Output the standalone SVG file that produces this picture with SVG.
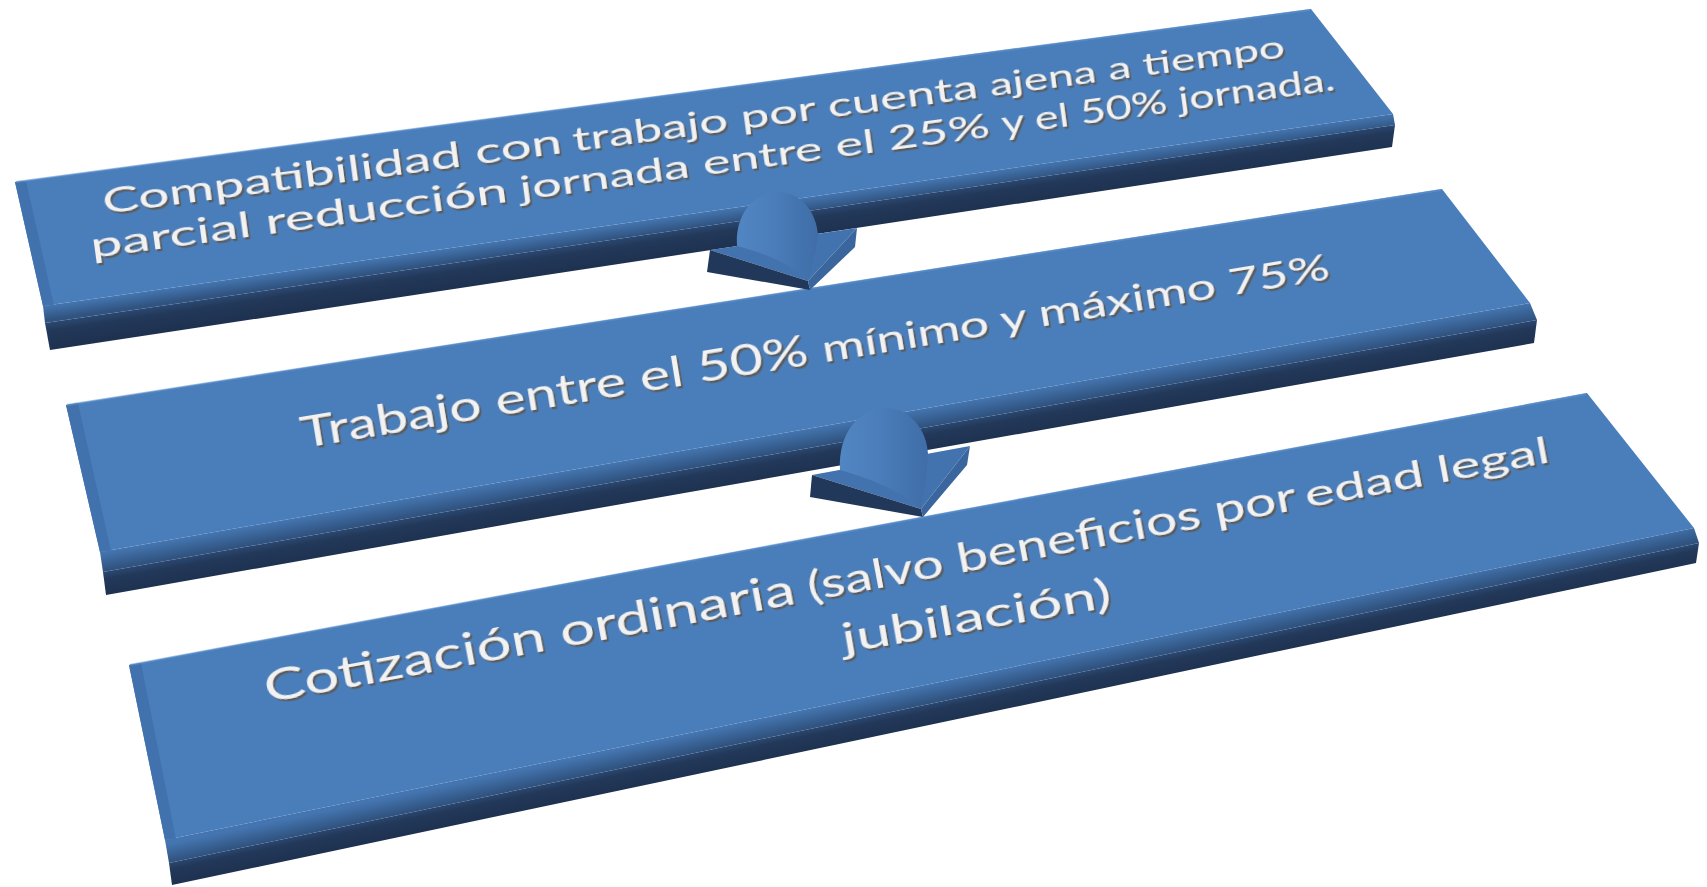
<svg xmlns="http://www.w3.org/2000/svg" width="1707" height="887" viewBox="0 0 1707 887">
<defs>
<style>
.top{fill:#4A7EBB}
.edge{fill:#4272AD}
.hl{stroke:#5E92CE;stroke-width:2;stroke-opacity:0.6;fill:none}
.t{font-family:Lato,"Open Sans","Liberation Sans",sans-serif;fill:#F2F2F2;filter:url(#ts)}
.ah-top{fill:#4373AE}
.ah-front{fill:#22385A}
.ah-right{fill:#3A669D}
</style>
<filter id="ts" x="-5%" y="-30%" width="110%" height="160%">
<feDropShadow dx="1.8" dy="2.4" stdDeviation="0.6" flood-color="#5a5a5a" flood-opacity="1"/>
</filter>
<linearGradient id="g1b" gradientUnits="userSpaceOnUse" x1="718" y1="210" x2="720" y2="224"><stop offset="0" stop-color="#4475B0"/><stop offset="1" stop-color="#30537F"/></linearGradient>
<linearGradient id="g1f" gradientUnits="userSpaceOnUse" x1="720" y1="224" x2="723.5" y2="247.7"><stop offset="0" stop-color="#2A4770"/><stop offset="0.3" stop-color="#23395A"/><stop offset="1" stop-color="#1E3150"/></linearGradient>
<linearGradient id="g2b" gradientUnits="userSpaceOnUse" x1="815" y1="427.5" x2="818.1" y2="445.2"><stop offset="0" stop-color="#4475B0"/><stop offset="1" stop-color="#30537F"/></linearGradient>
<linearGradient id="g2f" gradientUnits="userSpaceOnUse" x1="820" y1="446" x2="824" y2="468.7"><stop offset="0" stop-color="#2A4770"/><stop offset="0.3" stop-color="#23395A"/><stop offset="1" stop-color="#1E3150"/></linearGradient>
<linearGradient id="g3b" gradientUnits="userSpaceOnUse" x1="929.5" y1="684" x2="933.2" y2="701.6"><stop offset="0" stop-color="#4475B0"/><stop offset="1" stop-color="#30537F"/></linearGradient>
<linearGradient id="g3f" gradientUnits="userSpaceOnUse" x1="934" y1="703" x2="938.3" y2="723.6"><stop offset="0" stop-color="#2A4770"/><stop offset="0.3" stop-color="#23395A"/><stop offset="1" stop-color="#1E3150"/></linearGradient>
<linearGradient id="dome" x1="0" y1="0" x2="1" y2="0"><stop offset="0" stop-color="#5286C2"/><stop offset="0.45" stop-color="#4A7DBA"/><stop offset="1" stop-color="#3F6DA7"/></linearGradient>
</defs>
<rect width="1707" height="887" fill="#FFFFFF"/>

<g id="node-1">
<polygon class="top" points="15,182 1311,9 1393,114 43,306"/>
<polygon class="edge" points="15,182 26,181 54,305 43,306"/>
<line class="hl" x1="16" y1="182" x2="1310" y2="10"/>
<polygon fill="url(#g1b)" points="43,306 1393,114 1395,125 45,323"/>
<polygon fill="url(#g1f)" points="45,323 1395,125 1392,147 50,350"/>
<text class="t" transform="translate(104,214) rotate(-7.57)"><tspan x="0" font-size="35" textLength="463" lengthAdjust="spacingAndGlyphs">Compatibilidad con</tspan> <tspan x="474.1" font-size="33.2" textLength="408.6" lengthAdjust="spacingAndGlyphs">trabajo por cuenta</tspan> <tspan x="894.8" font-size="31.8" textLength="297.6" lengthAdjust="spacingAndGlyphs">ajena a tiempo</tspan></text>
<text class="t" transform="translate(92,258) rotate(-7.69)"><tspan x="0" font-size="35.3" textLength="420.8" lengthAdjust="spacingAndGlyphs">parcial reducción</tspan> <tspan x="432.9" font-size="33.6" textLength="474.3" lengthAdjust="spacingAndGlyphs">jornada entre el 25%</tspan> <tspan x="919.3" font-size="32" textLength="336" lengthAdjust="spacingAndGlyphs">y el 50% jornada.</tspan></text>
</g>

<g id="node-2">
<polygon class="top" points="66,405 1442,189 1530,303 100,552"/>
<polygon class="edge" points="66,405 78,403 111,551 100,552"/>
<line class="hl" x1="67" y1="405" x2="1441" y2="190"/>
<polygon fill="url(#g2b)" points="100,552 1530,303 1537,320 103,572"/>
<polygon fill="url(#g2f)" points="103,572 1537,320 1534,343 106,595"/>
<text class="t" transform="translate(303,448) rotate(-9.34)"><tspan x="0" font-size="41.6" textLength="513.8" lengthAdjust="spacingAndGlyphs">Trabajo entre el 50%</tspan> <tspan x="528" font-size="37.2" textLength="513.8" lengthAdjust="spacingAndGlyphs">mínimo y máximo 75%</tspan></text>
</g>

<g id="node-3">
<polygon class="top" points="129,665 1587,393 1694,528 165,840"/>
<polygon class="edge" points="129,665 141,663 176,839 165,840"/>
<line class="hl" x1="130" y1="665" x2="1586" y2="394"/>
<polygon fill="url(#g3b)" points="165,840 1694,528 1699,543 169,863"/>
<polygon fill="url(#g3f)" points="169,863 1699,543 1696,563 172,885"/>
<text class="t" transform="translate(267,703) rotate(-10.63)"><tspan x="0" font-size="44" textLength="539.3" lengthAdjust="spacingAndGlyphs">Cotización ordinaria</tspan> <tspan x="552.5" font-size="40" textLength="496.5" lengthAdjust="spacingAndGlyphs">(salvo beneficios por</tspan> <tspan x="1058.2" font-size="37" textLength="248.3" lengthAdjust="spacingAndGlyphs">edad legal</tspan></text>
<text class="t" transform="translate(844,653) rotate(-9.76)"><tspan x="0" font-size="40" textLength="273" lengthAdjust="spacingAndGlyphs">jubilación)</tspan></text>
</g>

<g id="connectors">
<g id="arrow-1">
<polygon class="ah-top" points="710,250 857,228 808,281"/>
<polygon class="ah-front" points="710,250 808,281 810,290 707,272"/>
<polygon class="ah-right" points="857,228 855,247 810,290 808,281"/>
<path fill="url(#dome)" d="M737,246 C735,213 755,192 778,192 C801,192 816,212 818,234 C816,252 812,268 808,281 C790,262 760,252 737,246 Z"/>
</g>
<g id="arrow-2">
<polygon class="ah-top" points="812,475 970,446 921,509"/>
<polygon class="ah-front" points="812,475 921,509 923,517 810,497"/>
<polygon class="ah-right" points="970,446 967,465 923,517 921,509"/>
<path fill="url(#dome)" d="M840,470 C838,432 860,408 886,408 C910,408 927,430 928,454 C927,475 924,492 921,509 C900,490 868,478 840,470 Z"/>
</g>
</g>
</svg>
